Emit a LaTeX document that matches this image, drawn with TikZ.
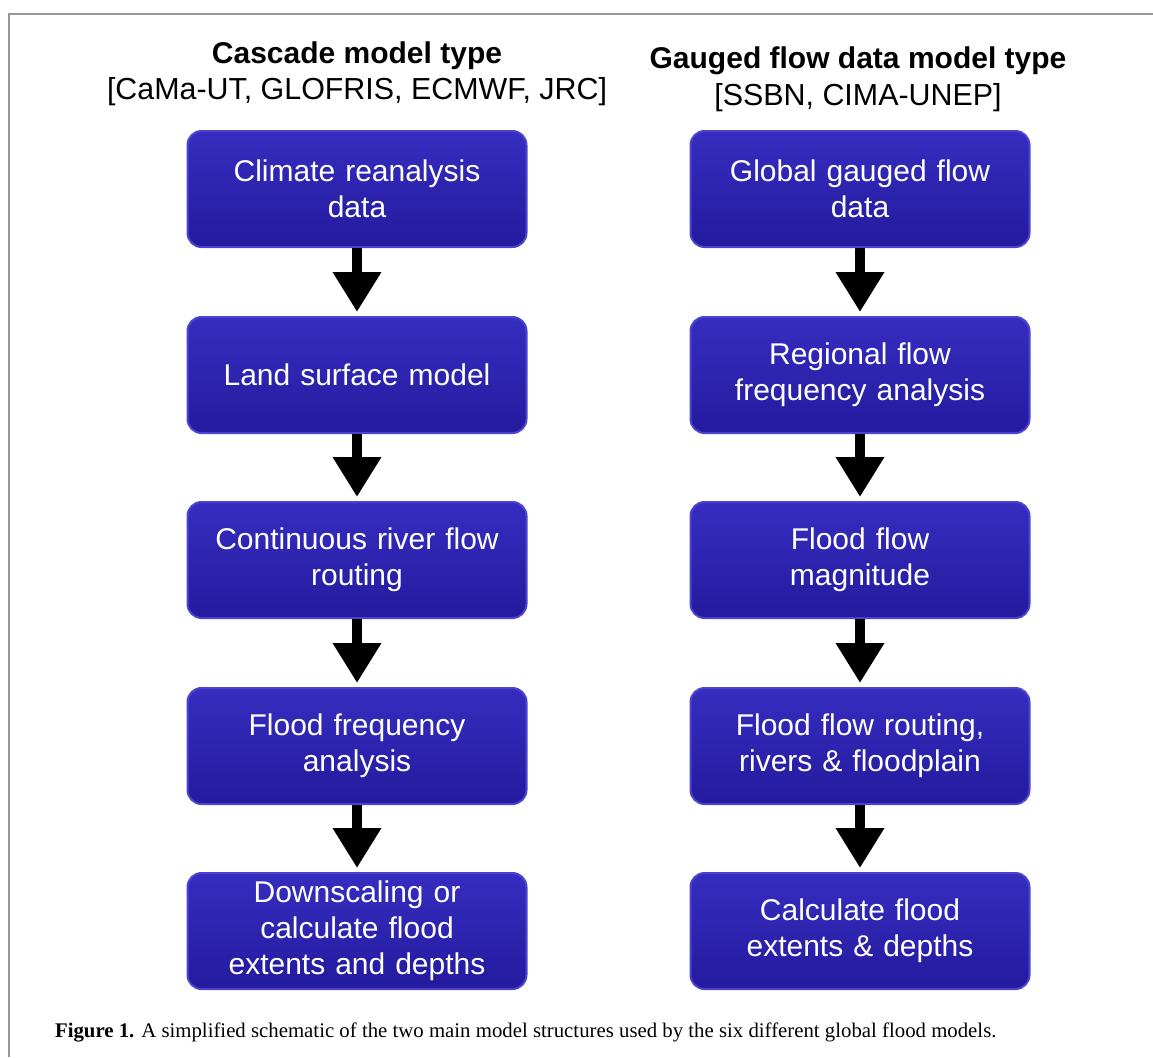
\documentclass[tikz,border=0pt]{standalone}
\usepackage{fontspec}
\setmainfont{Liberation Serif}
\setsansfont{Liberation Sans}
\usetikzlibrary{arrows.meta}
\definecolor{boxblue}{RGB}{42,32,170}
\definecolor{boxtop}{RGB}{54,45,192}
\definecolor{boxbot}{RGB}{36,26,158}
\definecolor{boxedge}{RGB}{74,68,208}
\definecolor{framegray}{RGB}{150,150,150}

\begin{document}
\begin{tikzpicture}[x=0.5pt,y=-0.5pt]
    \tikzstyle{stage}=[rounded corners=7pt, minimum width=169.5pt, minimum height=58pt,
        text width=160pt, align=center, draw=boxedge, line width=1pt,
        top color=boxtop, middle color=boxblue, bottom color=boxbot,
        text=white, font=\sffamily\fontsize{15}{18}\selectfont]
    \tikzstyle{head}=[anchor=base, font=\sffamily\bfseries\fontsize{15}{18}\selectfont]
    \tikzstyle{models}=[anchor=base, font=\sffamily\fontsize{15.2}{18}\selectfont]
    \tikzstyle{flow}=[line width=5pt, -{Triangle[length=20pt,width=23pt]}, shorten >=2pt]
\useasboundingbox (0,0) rectangle (1153,1057);
\draw[framegray, line width=1pt] (9,1057) -- (9,14) -- (1153,14);

% cascade model type
\node[head] (lhead) at (357,63) {Cascade model type};
\node[models] (lmod) at (357,99) {[CaMa-UT, GLOFRIS, ECMWF, JRC]};
\node[stage] (clim) at (357,189) {Climate reanalysis\\data};
\node[stage] (land) at (357,375) {Land surface model};
\node[stage] (route) at (357,560) {Continuous river flow\\routing};
\node[stage] (freq) at (357,746) {Flood frequency\\analysis};
\node[stage] (down) at (357,931) {Downscaling or\\calculate flood\\extents and depths};

% gauged flow data model type
\node[head] (rhead) at (858,68) {Gauged flow data model type};
\node[models] (rmod) at (858,105) {[SSBN, CIMA-UNEP]};
\node[stage] (gauge) at (860,189) {Global gauged flow\\data};
\node[stage] (region) at (860,375) {Regional flow\\frequency analysis};
\node[stage] (mag) at (860,560) {Flood flow\\magnitude};
\node[stage] (froute) at (860,746) {Flood flow routing,\\rivers \& floodplain};
\node[stage] (extent) at (860,931) {Calculate flood\\extents \& depths};

\draw[flow] (clim) -- (land);
\draw[flow] (land) -- (route);
\draw[flow] (route) -- (freq);
\draw[flow] (freq) -- (down);
\draw[flow] (gauge) -- (region);
\draw[flow] (region) -- (mag);
\draw[flow] (mag) -- (froute);
\draw[flow] (froute) -- (extent);

\node[anchor=base west, font=\fontsize{10.4}{12}\selectfont] (cap) at (48,1037)
    {\textbf{Figure 1.} A simplified schematic of the two main model structures used by the six different global flood models.};
\end{tikzpicture}
\end{document}
